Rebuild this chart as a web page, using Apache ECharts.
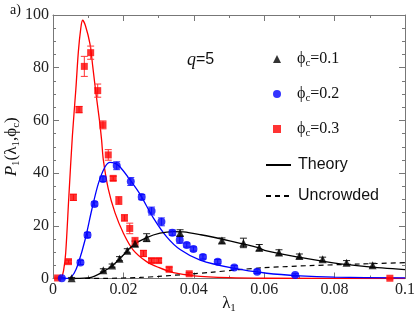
<!DOCTYPE html>
<html>
<head>
<meta charset="utf-8">
<script src="https://cdn.jsdelivr.net/npm/echarts@6/dist/echarts.min.js"></script>
<style>html,body{margin:0;padding:0;background:#fff}#c{width:415px;height:319px}</style>
</head>
<body>
<div id="c"></div>
<script>
// ---- data ----
const xTicks = [0, 0.02, 0.04, 0.06, 0.08, 0.1];
const yTicks = [0, 20, 40, 60, 80, 100];

const redX = [0.0013, 0.0044, 0.0058, 0.0074, 0.0089, 0.0107, 0.0127, 0.0142, 0.0157, 0.0171, 0.0187, 0.0203, 0.0218, 0.0233, 0.0257, 0.0280, 0.0300, 0.0330, 0.0387, 0.0957];
const redY = [0.2, 6.4, 30.8, 64.1, 80.5, 85.7, 71.3, 58.3, 46.9, 38.0, 29.6, 23.0, 19.0, 14.1, 9.5, 6.8, 6.8, 3.5, 1.8, 0.1];
const redErr = [0.3, 0.6, 1.2, 1.2, 3.8, 2.5, 2.5, 1.5, 2.0, 0.8, 1.5, 1.2, 2.0, 1.5, 1.2, 0.8, 0.8, 0.8, 0.5, 0.3];

const blueX = [0.0025, 0.0078, 0.0098, 0.0118, 0.0142, 0.0181, 0.0221, 0.0252, 0.0280, 0.0308, 0.0339, 0.0360, 0.0380, 0.0399, 0.0426, 0.0468, 0.0515, 0.0580, 0.0688];
const blueY = [0.1, 6.1, 16.5, 28.3, 37.8, 42.8, 36.8, 30.9, 25.6, 21.5, 17.4, 14.6, 12.7, 11.2, 8.2, 6.4, 4.2, 2.6, 1.3];
const blueErr = [0.3, 0.8, 1.0, 0.8, 1.0, 1.5, 1.5, 1.0, 1.5, 1.5, 1.0, 1.2, 0.8, 0.8, 0.8, 0.8, 0.7, 0.7, 0.5];

const blackX = [0.0053, 0.0143, 0.0168, 0.0189, 0.0211, 0.0233, 0.0266, 0.0361, 0.0480, 0.0541, 0.0586, 0.0642, 0.0700, 0.0766, 0.0834, 0.0908];
const blackY = [0.1, 3.1, 4.9, 7.5, 10.5, 13.2, 15.5, 17.3, 14.4, 13.5, 11.7, 9.9, 8.5, 7.3, 6.0, 5.0];
const blackErr = [0.3, 0.6, 0.6, 0.8, 0.8, 1.0, 1.5, 1.2, 1.0, 1.8, 1.2, 1.0, 0.8, 0.8, 0.8, 0.8];

// theory curves
const redTheory = [[0.002,0],[0.0025,0.7],[0.003,3],[0.0036,9.6],[0.0045,31],[0.0055,54],[0.0065,72],[0.0072,86],[0.0079,95],[0.0084,98],[0.0092,96],[0.0105,89],[0.0113,80.4],[0.0122,70.3],[0.0132,60],[0.0138,52.6],[0.0143,45],[0.0157,34],[0.0176,25],[0.020,17.2],[0.0228,10.8],[0.0266,6.4],[0.030,4.2],[0.0342,2.2],[0.040,1.0],[0.050,0.3],[0.060,0.1],[0.100,0]];
const blueTheory = [[0.003,0],[0.0048,0.3],[0.006,2],[0.0072,5.8],[0.0091,14.6],[0.011,26],[0.0129,36.1],[0.0148,42.4],[0.0162,44.1],[0.0175,43.8],[0.019,42.4],[0.0219,37.4],[0.0247,32],[0.0285,23],[0.0323,15.8],[0.0361,11],[0.0418,7],[0.0512,3.9],[0.0607,2.0],[0.0702,1.0],[0.080,0.5],[0.100,0.2]];
const blackTheory = [[0.006,0],[0.0105,0.3],[0.0143,2.6],[0.0171,5.1],[0.020,8.9],[0.0228,12.7],[0.0266,15.5],[0.0304,17.2],[0.0342,17.8],[0.037,17.7],[0.042,16.6],[0.0505,14.2],[0.058,11.8],[0.0607,10.5],[0.0702,8.0],[0.0796,5.9],[0.0891,4.5],[0.100,3.4]];
const uncrowded = [[0.004,0],[0.015,0.05],[0.0247,0.4],[0.030,0.8],[0.0389,1.7],[0.0446,2.3],[0.0531,3.4],[0.060,4.1],[0.073,4.9],[0.0872,5.5],[0.100,6.0]];

const RED = '#ff0000', BLUE = '#0000ff', BLACK = '#000000';

function pts(xs, ys) { return xs.map((x, i) => [x, ys[i]]); }
function errs(xs, ys, es) { return xs.map((x, i) => [x, ys[i] - es[i], ys[i] + es[i]]); }

function errRender(color) {
  return function (params, api) {
    const x = api.value(0);
    const lo = api.coord([x, api.value(1)]);
    const hi = api.coord([x, api.value(2)]);
    const w = 3.5;
    const st = { stroke: color, lineWidth: 1 };
    return {
      type: 'group',
      children: [
        { type: 'line', shape: { x1: lo[0], y1: lo[1], x2: hi[0], y2: hi[1] }, style: st },
        { type: 'line', shape: { x1: lo[0] - w, y1: lo[1], x2: lo[0] + w, y2: lo[1] }, style: st },
        { type: 'line', shape: { x1: hi[0] - w, y1: hi[1], x2: hi[0] + w, y2: hi[1] }, style: st }
      ]
    };
  };
}

const serif = '"Liberation Serif", "DejaVu Serif", serif';
const sans = '"Liberation Sans", Arial, sans-serif';
const axisCol = '#777';

const commonAxis = {
  axisLine: { show: true, onZero: false, lineStyle: { color: axisCol, width: 1 } },
  axisTick: { show: true, inside: true, length: 6, lineStyle: { color: axisCol } },
  minorTick: { show: true, length: 3, lineStyle: { color: axisCol } },
  splitLine: { show: false }
};

const phiRich = {
  f: { fontFamily: serif, fontSize: 16, color: '#111', lineHeight: 20, padding: [0, 0, 0, 11] },
  p: { fontFamily: serif, fontSize: 16, color: '#111', lineHeight: 20 },
  s: { fontFamily: serif, fontSize: 11, color: '#111', lineHeight: 10, verticalAlign: 'bottom' }
};
const hiddenSym = { color: 'rgba(0,0,0,0)', opacity: 0, borderWidth: 0 };

const chart = echarts.init(document.getElementById('c'), null, { renderer: 'canvas' });
chart.setOption({
  animation: false,
  backgroundColor: '#fff',
  title: [
    { text: 'a)', left: 5, top: -2, textStyle: { fontFamily: serif, fontSize: 14, fontWeight: 'normal', color: '#111' } },
    { text: '{i|q}{n|=5}', left: 182, top: 46,
      textStyle: { fontWeight: 'normal', rich: {
        i: { fontFamily: serif, fontStyle: 'italic', fontWeight: 'normal', fontSize: 18, color: '#111' },
        n: { fontFamily: sans, fontWeight: 'normal', fontSize: 16, color: '#111' } } } }
  ],
  grid: { left: 53, right: 10, top: 15, bottom: 40.5, containLabel: false, outerBoundsMode: 'none' },
  legend: [
    {
      orient: 'vertical', left: 268, top: 46, itemWidth: 8, itemHeight: 8, itemGap: 17,
      data: ['phi01', 'phi02', 'phi03'],
      formatter: function (n) {
        return '{f|ϕ}{s|c}{p|=0.' + n.slice(-1) + '}';
      },
      textStyle: { rich: phiRich },
      selectedMode: false
    },
    {
      orient: 'vertical', left: 260, top: 152, itemWidth: 25, itemHeight: 8, itemGap: 15,
      data: [{ name: 'Theory', itemStyle: hiddenSym }, { name: 'Uncrowded', itemStyle: hiddenSym }],
      formatter: '{t|{name}}',
      textStyle: { rich: { t: { fontFamily: sans, fontSize: 16, color: '#111', lineHeight: 15, padding: [0, 0, 0, 2] } } },
      selectedMode: false
    }
  ],
  xAxis: [
    Object.assign({}, commonAxis, {
      type: 'value', min: 0, max: 0.1, interval: 0.02, minorSplitLine: { show: false },
      minorTick: Object.assign({}, commonAxis.minorTick, { splitNumber: 2 }),
      axisLabel: { fontFamily: serif, fontSize: 16, color: '#222', margin: 3,
        formatter: v => xTicks.includes(+v.toFixed(2)) ? String(+v.toFixed(2)) : '' },
      name: '{p|λ}{s|1}', nameLocation: 'middle', nameGap: 15, nameMoveOverlap: false,
      nameTextStyle: { rich: { p: { fontFamily: serif, fontSize: 17, color: '#111', lineHeight: 20 },
        s: { fontFamily: serif, fontSize: 11, color: '#111', lineHeight: 10, verticalAlign: 'bottom' } } }
    }),
    Object.assign({}, commonAxis, {
      type: 'value', position: 'top', min: 0, max: 0.1, interval: 0.02,
      minorTick: Object.assign({}, commonAxis.minorTick, { splitNumber: 2 }),
      axisLabel: { show: false }
    })
  ],
  yAxis: [
    Object.assign({}, commonAxis, {
      type: 'value', min: 0, max: 100, interval: 20,
      minorTick: Object.assign({}, commonAxis.minorTick, { splitNumber: 4 }),
      axisLabel: { fontFamily: serif, fontSize: 16, color: '#222', margin: 4,
        formatter: v => yTicks.includes(v) ? String(v) : '' },
      name: '{i|P}{s|1}{p|(λ}{s|1}{p|,ϕ}{s|c}{p|)}', nameLocation: 'middle', nameGap: 31, nameRotate: 90, nameMoveOverlap: false,
      nameTextStyle: { rich: {
        i: { fontFamily: serif, fontStyle: 'italic', fontSize: 17, color: '#111', lineHeight: 20 },
        p: { fontFamily: serif, fontSize: 17, color: '#111', lineHeight: 20 },
        s: { fontFamily: serif, fontSize: 11, color: '#111', lineHeight: 10, verticalAlign: 'bottom' } } }
    }),
    Object.assign({}, commonAxis, {
      type: 'value', position: 'right', min: 0, max: 100, interval: 20,
      minorTick: Object.assign({}, commonAxis.minorTick, { splitNumber: 4 }),
      axisLabel: { show: false }
    })
  ],
  series: [
    { type: 'line', data: uncrowded, name: 'Uncrowded', smooth: 0.3, symbol: 'none', showSymbol: false, z: 2,
      lineStyle: { color: BLACK, width: 1.2, type: [5, 4] }, itemStyle: { color: BLACK } },
    { type: 'line', data: redTheory, smooth: 0.3, symbol: 'none', z: 2, lineStyle: { color: RED, width: 1.3 }, itemStyle: { color: RED } },
    { type: 'line', data: blueTheory, smooth: 0.3, symbol: 'none', z: 2, lineStyle: { color: BLUE, width: 1.3 }, itemStyle: { color: BLUE } },
    { type: 'line', data: blackTheory, name: 'Theory', smooth: 0.3, symbol: 'none', showSymbol: false, z: 2, lineStyle: { color: BLACK, width: 1.3 }, itemStyle: { color: BLACK } },
    { type: 'custom', data: errs(redX, redY, redErr), renderItem: errRender('#ff3333'), z: 3, silent: true },
    { type: 'custom', data: errs(blueX, blueY, blueErr), renderItem: errRender('#3333ff'), z: 3, silent: true },
    { type: 'custom', data: errs(blackX, blackY, blackErr), renderItem: errRender('#222'), z: 3, silent: true },
    { type: 'scatter', name: 'phi03', data: pts(redX, redY), symbol: 'rect', symbolSize: 7, z: 4, itemStyle: { color: RED } },
    { type: 'scatter', name: 'phi02', data: pts(blueX, blueY), symbol: 'circle', symbolSize: 8, z: 4, itemStyle: { color: BLUE } },
    { type: 'scatter', name: 'phi01', data: pts(blackX, blackY), symbol: 'triangle', symbolSize: 8, z: 4, itemStyle: { color: BLACK } }
  ]
});
</script>
</body>
</html>
